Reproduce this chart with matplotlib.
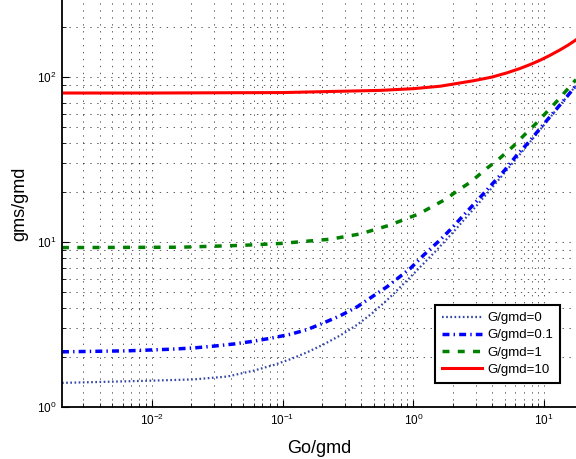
import matplotlib
matplotlib.use("Agg")
import matplotlib.pyplot as plt
import matplotlib.ticker as mticker

plt.rcParams['font.family'] = ['Liberation Sans', 'DejaVu Sans']
plt.rcParams['mathtext.fontset'] = 'custom'
plt.rcParams['mathtext.rm'] = 'Liberation Sans'
plt.rcParams['mathtext.it'] = 'Liberation Sans:italic'
plt.rcParams['lines.scale_dashes'] = False

# courbes : gms/gmd en fonction de Go/gmd
x_g0 = [0.00206, 0.0087, 0.021, 0.0378, 0.060, 0.086, 0.115, 0.155, 0.207, 0.277,
        0.372, 0.484, 0.63, 0.75, 1.0, 1.5, 2.0, 3.0, 4.0, 5.0, 7.0, 10.0, 13.0, 17.5]
y_g0 = [1.40, 1.44, 1.47, 1.53, 1.66, 1.80, 1.95, 2.15, 2.40, 2.72,
        3.15, 3.70, 4.45, 5.1, 6.4, 8.9, 11.4, 16.4, 21.4, 26.4, 36.4, 51.4, 66.4, 88.8]

x_g01 = [0.00206, 0.0065, 0.014, 0.021, 0.030, 0.0425, 0.057, 0.081, 0.115, 0.155,
         0.207, 0.277, 0.372, 0.484, 0.63, 0.95, 1.2, 1.56, 1.92, 2.49, 3.15,
         3.87, 5.0, 6.19, 7.6, 9.32, 12.0, 14.9, 17.5]
y_g01 = [2.16, 2.19, 2.24, 2.28, 2.34, 2.41, 2.49, 2.61, 2.76, 2.95,
         3.24, 3.58, 4.05, 4.66, 5.36, 6.93, 8.34, 10.1, 11.9, 14.9, 18.2,
         21.8, 27.3, 33.7, 40.2, 48.9, 62.0, 76.0, 89.0]

x_g1 = [0.00206, 0.0166, 0.05, 0.0966, 0.232, 0.394, 0.648, 1.10, 1.75, 2.28,
        2.72, 3.65, 4.5, 5.83, 7.0, 8.79, 10.5, 12.5, 15.8, 17.5]
y_g1 = [9.25, 9.3, 9.55, 9.8, 10.4, 11.2, 12.6, 14.8, 18.1, 21.0,
        23.0, 28.0, 31.8, 38.2, 44.3, 52.9, 61.6, 71.3, 88.0, 96.5]

x_g10 = [0.00206, 0.01, 0.1, 0.56, 1.0, 1.61, 2.89, 4.0, 5.19, 6.5, 7.8, 9.32,
         11.0, 13.2, 15.3, 17.5]
y_g10 = [80.0, 80.0, 80.5, 83.0, 85.0, 88.0, 95.0, 100.0, 106.0, 112.5, 119.0, 126.5,
         135.0, 146.0, 156.5, 168.0]

labels = ['G/gmd=0', 'G/gmd=0.1', 'G/gmd=1', 'G/gmd=10']

fig = plt.figure(figsize=(5.76, 4.59), dpi=100)
ax = fig.add_axes([62 / 576, 52 / 459, 514 / 576, 407 / 459])

ax.loglog(x_g0, y_g0, color='#3346a8', lw=1.6, ls=(0, (1.2, 1.8)), label=labels[0])
ax.loglog(x_g01, y_g01, color='blue', lw=2.5, ls=(0, (5, 3, 1, 3)), label=labels[1])
ax.loglog(x_g1, y_g1, color='#008000', lw=2.5, ls=(0, (5, 6)), label=labels[2])
ax.loglog(x_g10, y_g10, color='red', lw=2.2, ls='-', label=labels[3])

ax.set_xlim(0.00206, 17.5)
ax.set_ylim(1, 293)

# grille pointillée façon MATLAB
ax.grid(True, which='both', color='k', lw=0.6, ls=(0, (1, 4)), alpha=0.75)
ax.set_axisbelow(True)

for s in ['top', 'right']:
    ax.spines[s].set_visible(False)
for s in ['left', 'bottom']:
    ax.spines[s].set_linewidth(1.3)

ax.xaxis.set_major_locator(mticker.LogLocator(base=10, numticks=10))
ax.yaxis.set_major_locator(mticker.LogLocator(base=10, numticks=10))
ax.tick_params(which='major', direction='in', length=5, width=0.8, labelsize=8.5, pad=4)
ax.tick_params(which='minor', direction='in', length=3, width=0.6)
ax.tick_params(top=False, right=False)

ax.set_xlabel('Go/gmd', fontsize=13, va='top')
ax.xaxis.set_label_coords(0.5, -0.08)
ax.set_ylabel('gms/gmd', fontsize=13)
ax.yaxis.set_label_coords(-0.065, 0.5)

leg = ax.legend(loc='lower right', bbox_to_anchor=(0.969, 0.06), borderaxespad=0,
                fontsize=9.5, fancybox=False, framealpha=1, edgecolor='k',
                handlelength=3.0, handletextpad=0.45, labelspacing=0.38,
                borderpad=0.5)
leg.get_frame().set_linewidth(1.5)

fig.savefig('out.png', dpi=100)
